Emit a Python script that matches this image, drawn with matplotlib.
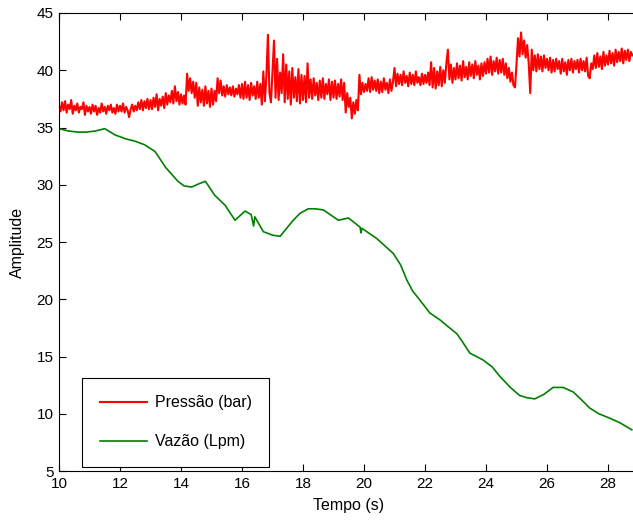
import numpy as np
import matplotlib.pyplot as plt

plt.rcParams['font.family'] = ['Liberation Sans', 'DejaVu Sans']

# Pressão (bar) - amostras a cada 0.05 s de 10.0 a 28.8 s
pressao = [
    36.9, 36.4, 37.2, 36.5, 37.3, 36.3, 37.0, 36.6, 37.4, 36.2, 36.9, 36.5, 37.1, 36.3, 36.8, 36.6, 37.2, 36.1, 36.9, 36.4,
    36.8, 36.2, 37.0, 36.4, 36.9, 36.1, 36.7, 36.3, 37.1, 36.4, 36.8, 36.2, 36.9, 36.5, 37.0, 36.3, 36.7, 36.2, 37.0, 36.4,
    36.9, 36.4, 37.1, 36.3, 36.8, 36.5, 35.9, 36.6, 37.0, 36.4, 36.9, 36.5, 37.2, 36.6, 37.4, 36.5, 37.3, 36.7, 37.5, 36.6,
    37.4, 36.6, 37.6, 36.8, 37.9, 36.5, 37.5, 36.9, 37.7, 36.7, 38.0, 37.0, 37.8, 37.2, 38.2, 37.1, 38.6, 37.3, 38.1, 37.0,
    37.9, 37.1, 37.8, 37.0, 39.7, 38.2, 39.3, 38.0, 39.0, 37.6, 38.9, 36.9, 38.5, 37.2, 38.3, 36.9, 38.6, 37.1, 38.2, 36.8,
    38.4, 37.0, 38.2, 37.3, 39.3, 38.0, 39.1, 37.8, 38.6, 37.7, 38.7, 37.9, 38.5, 37.8, 38.6, 37.7, 38.4, 37.9, 38.7, 37.6,
    38.8, 37.5, 39.0, 37.6, 38.7, 37.4, 38.9, 37.8, 38.6, 37.5, 39.0, 37.6, 38.8, 37.0, 39.9, 37.3, 39.5, 43.1, 38.0, 37.2,
    40.0, 42.6, 37.6, 41.0, 37.4, 39.8, 38.0, 41.4, 37.2, 40.5, 37.5, 39.9, 37.0, 40.2, 37.6, 39.4, 37.3, 40.1, 37.1, 39.6,
    37.4, 39.5, 37.2, 40.6, 37.6, 39.2, 37.5, 39.3, 37.8, 38.9, 37.4, 39.1, 37.6, 39.3, 37.5, 38.8, 37.9, 39.2, 37.4, 39.0,
    37.6, 39.1, 37.5, 38.8, 37.7, 39.2, 37.4, 38.9, 36.3, 38.0, 36.8, 37.6, 35.8, 37.2, 36.2, 37.4, 36.5, 39.6, 37.9, 38.9,
    38.1, 38.8, 38.2, 39.3, 38.1, 39.4, 38.3, 39.1, 38.2, 39.2, 38.0, 39.0, 38.1, 39.3, 38.3, 38.9, 38.0, 39.2, 38.2, 39.0,
    40.2, 38.6, 39.7, 38.8, 39.6, 38.7, 39.9, 38.9, 39.5, 38.6, 39.8, 38.8, 39.6, 38.7, 39.9, 38.9, 39.4, 38.7, 39.7, 38.8,
    39.6, 38.9, 39.8, 38.7, 40.7, 38.5, 40.2, 38.4, 39.9, 38.7, 40.3, 38.6, 40.0, 38.9, 40.6, 41.8, 39.2, 40.5, 38.9, 40.2,
    39.2, 40.6, 39.3, 40.4, 39.1, 40.8, 39.4, 40.3, 39.2, 40.7, 39.5, 40.5, 39.3, 40.8, 39.6, 40.4, 39.2, 40.6, 39.5, 40.7,
    39.7, 41.0, 39.8, 41.2, 39.6, 40.8, 39.9, 41.1, 39.7, 40.9, 39.8, 41.0, 39.6, 40.6, 39.3, 40.2, 39.0, 39.8, 38.7, 38.5,
    40.5, 42.8, 41.2, 43.3, 41.4, 42.6, 41.1, 42.2, 40.6, 38.0, 41.8, 40.0, 41.3, 39.9, 41.4, 40.1, 41.2, 39.9, 41.3, 40.2,
    41.0, 40.0, 41.1, 39.8, 40.9, 39.9, 41.0, 40.1, 40.8, 39.7, 41.0, 39.9, 40.7, 39.6, 40.9, 40.0, 41.0, 39.8, 40.8, 40.1,
    40.9, 39.8, 41.0, 40.0, 40.8, 39.9, 41.1, 39.5, 39.3, 40.6, 40.1, 41.3, 40.2, 41.5, 40.3, 41.2, 40.1, 41.6, 40.4, 41.3,
    40.5, 41.7, 40.6, 41.5, 40.4, 41.8, 40.7, 41.6, 40.8, 41.9, 40.6, 41.7, 40.9, 41.8, 40.8, 41.6, 41.3,
]
tempo_p = np.linspace(10.0, 28.8, len(pressao))

# Vazão (Lpm)
tempo_v = [10.0, 10.3, 10.6, 10.9, 11.2, 11.5, 11.84, 12.2, 12.5, 12.8, 13.15, 13.3, 13.5, 13.9, 14.1,
           14.35, 14.6, 14.8, 15.1, 15.45, 15.77, 16.1, 16.3, 16.38, 16.42, 16.7, 17.0, 17.25, 17.68,
           17.9, 18.17, 18.4, 18.67, 19.16, 19.49, 19.87, 19.9, 19.93, 20.42, 20.96, 21.2, 21.4, 21.6,
           21.84, 22.16, 22.49, 22.76, 23.04, 23.2, 23.47, 23.9, 24.2, 24.46, 24.8, 25.1, 25.35, 25.6,
           25.9, 26.2, 26.53, 26.86, 27.1, 27.4, 27.7, 28.07, 28.4, 28.78]
vazao = [34.9, 34.7, 34.6, 34.6, 34.7, 34.9, 34.35, 34.0, 33.8, 33.5, 32.9, 32.3, 31.5, 30.3, 29.9,
         29.8, 30.1, 30.3, 29.1, 28.2, 26.9, 27.7, 27.4, 26.4, 27.2, 25.9, 25.6, 25.5, 26.9,
         27.5, 27.9, 27.9, 27.8, 26.9, 27.1, 26.3, 25.8, 26.2, 25.3, 24.0, 23.0, 21.7, 20.7,
         19.9, 18.8, 18.2, 17.6, 17.0, 16.4, 15.3, 14.7, 14.1, 13.25, 12.3, 11.6, 11.4, 11.3,
         11.7, 12.3, 12.3, 11.9, 11.3, 10.5, 10.0, 9.6, 9.2, 8.6]

fig = plt.figure(figsize=(6.33, 5.2), dpi=100)
ax = fig.add_axes([0.0932, 0.0942, 0.9155, 0.8808])

ax.plot(tempo_p, pressao, color="#ff0000", lw=1.5, label="Pressão (bar)")
ax.plot(tempo_v, vazao, color="#008000", lw=1.2, label="Vazão (Lpm)")

ax.set_xlim(10, 29)
ax.set_ylim(5, 45)
ax.set_xticks(np.arange(10, 29, 2))
ax.set_yticks(np.arange(5, 46, 5))
ax.tick_params(direction="in", length=5, labelsize=11, top=True, right=False, pad=4)
for s in ax.spines.values():
    s.set_linewidth(0.8)

ax.set_xlabel("Tempo (s)", fontsize=11.5, labelpad=5)
ax.set_ylabel("Amplitude", fontsize=11.5, labelpad=8)

leg = ax.legend(loc="lower left", bbox_to_anchor=(0.0397, 0.009), borderaxespad=0,
                fancybox=False, edgecolor="black", framealpha=1, fontsize=11.5,
                handlelength=3.0, labelspacing=1.5, borderpad=1.1, handletextpad=0.45)
leg.get_frame().set_linewidth(0.8)

fig.savefig("out.png", dpi=100)
